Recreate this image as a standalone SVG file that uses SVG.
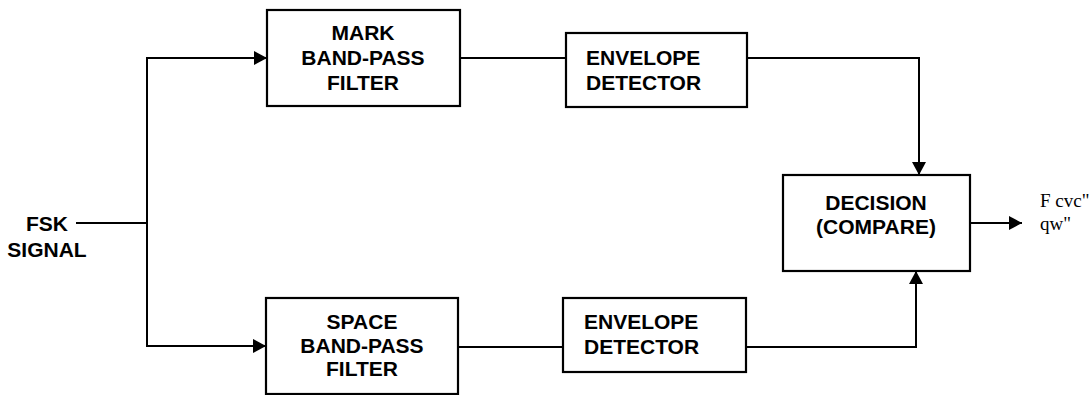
<svg xmlns="http://www.w3.org/2000/svg" width="1089" height="395" viewBox="0 0 1089 395">
<style>
.box{fill:#fff;stroke:#000;stroke-width:2.2}
.lbl{font-family:"Liberation Sans",Arial,sans-serif;font-weight:bold;font-size:21px;fill:#000}
.mid{text-anchor:middle}
.wire{fill:none;stroke:#000;stroke-width:2}
.out{font-family:"Liberation Serif","Times New Roman",serif;font-size:19px;fill:#000}
</style>
<defs>
<marker id="ah" markerUnits="userSpaceOnUse" markerWidth="14" markerHeight="16" refX="13" refY="7" orient="auto">
<path d="M0,0 L13,7 L0,14 z" fill="#000"/>
</marker>
</defs>
<rect width="1089" height="395" fill="#fff"/>
<g id="connectors">
<line class="wire" x1="76" y1="223" x2="147" y2="223"/>
<polyline class="wire" points="147,223 147,58 267,58" marker-end="url(#ah)"/>
<polyline class="wire" points="147,223 147,346 266,346" marker-end="url(#ah)"/>
<line class="wire" x1="460" y1="58" x2="566" y2="58"/>
<line class="wire" x1="458" y1="347" x2="563" y2="347"/>
<polyline class="wire" points="747,58 919,58 919,175" marker-end="url(#ah)"/>
<polyline class="wire" points="746,347 916,347 916,271" marker-end="url(#ah)"/>
<line class="wire" x1="970" y1="223" x2="1022" y2="223" marker-end="url(#ah)"/>
</g>
<g id="input">
<text class="lbl mid" x="47" y="231">FSK</text>
<text class="lbl mid" x="47" y="257">SIGNAL</text>
</g>
<g id="mark-bpf">
<rect class="box" x="267" y="10" width="193" height="96"/>
<text class="lbl mid" x="363" y="40">MARK</text>
<text class="lbl mid" x="363" y="65">BAND-PASS</text>
<text class="lbl mid" x="363" y="90">FILTER</text>
</g>
<g id="space-bpf">
<rect class="box" x="266" y="298" width="192" height="96"/>
<text class="lbl mid" x="362" y="329">SPACE</text>
<text class="lbl mid" x="362" y="353">BAND-PASS</text>
<text class="lbl mid" x="362" y="376">FILTER</text>
</g>
<g id="env-top">
<rect class="box" x="566" y="33" width="181" height="74"/>
<text class="lbl" x="586" y="65">ENVELOPE</text>
<text class="lbl" x="586" y="90">DETECTOR</text>
</g>
<g id="env-bottom">
<rect class="box" x="563" y="298" width="183" height="74"/>
<text class="lbl" x="584" y="329">ENVELOPE</text>
<text class="lbl" x="584" y="354">DETECTOR</text>
</g>
<g id="decision">
<rect class="box" x="783" y="175" width="187" height="96"/>
<text class="lbl mid" x="876" y="210">DECISION</text>
<text class="lbl mid" x="876" y="234">(COMPARE)</text>
</g>
<g id="output">
<text class="out" x="1040" y="207">F cvc"</text>
<text class="out" x="1040" y="230">qw"</text>
</g>
</svg>
